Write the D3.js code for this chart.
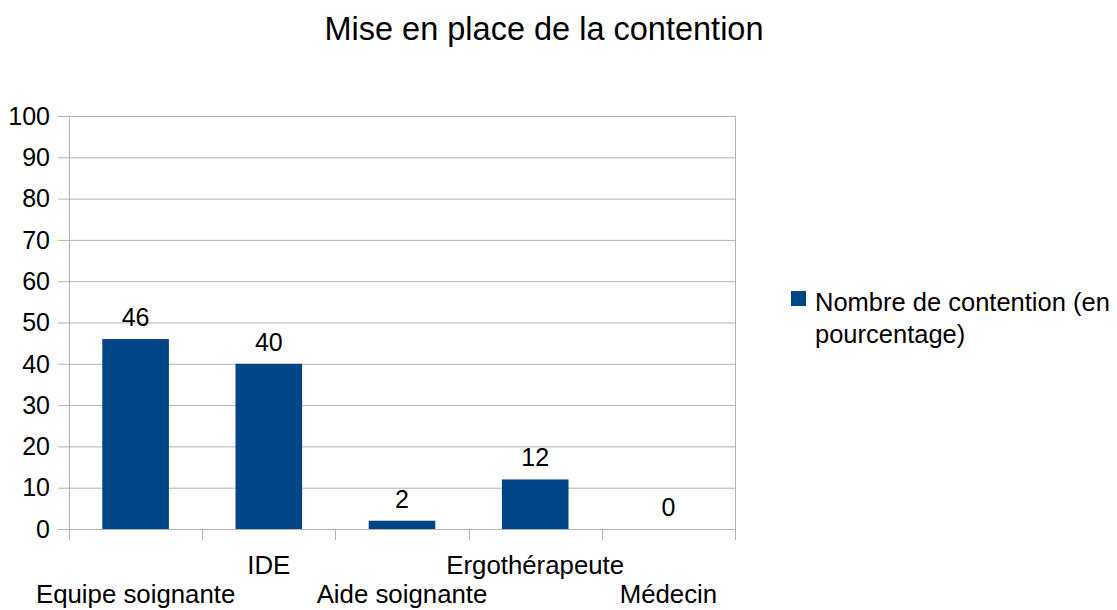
<!DOCTYPE html>
<html lang="fr">
<head>
    <meta charset="UTF-8">
    <title>Mise en place de la contention</title>
    <style>
        body { margin: 0; background: #fff; }
        text { font-family: "Liberation Sans", Arial, sans-serif; fill: #000; }
    </style>
</head>
<body>
    <div id="chart"></div>
    <script src="https://d3js.org/d3.v7.min.js"></script>
    <script>
        var categories = ["Equipe soignante", "IDE", "Aide soignante", "Ergothérapeute", "Médecin"];
        var values = [46, 40, 2, 12, 0];
        var yTicks = [0, 10, 20, 30, 40, 50, 60, 70, 80, 90, 100];
        var seriesName = ["Nombre de contention (en", "pourcentage)"];
        var title = "Mise en place de la contention";

        var W = 1117, H = 610;
        var margin = {top: 116, left: 69, right: 382, bottom: 81};
        var width = W - margin.left - margin.right,
            height = H - margin.top - margin.bottom;

        var svg = d3.select('#chart')
            .append('svg')
                .attr('width', W)
                .attr('height', H);

        svg.append('text')
            .attr('x', 544)
            .attr('y', 40)
            .attr('text-anchor', 'middle')
            .style('font-size', '32.5px')
            .text(title);

        var g = svg.append('g')
            .attr('transform', 'translate(' + margin.left + ',' + margin.top + ')');

        var x = d3.scaleBand()
            .domain(categories)
            .range([0, width])
            .paddingInner(0.5)
            .paddingOuter(0.25);

        var y = d3.scaleLinear()
            .domain([0, 100])
            .range([height, 0]);

        // gridlines
        g.append('g')
            .selectAll('line')
            .data(yTicks)
            .enter().append('line')
                .attr('x1', -11)
                .attr('x2', width)
                .attr('y1', d => y(d) + 0.5)
                .attr('y2', d => y(d) + 0.5)
                .attr('stroke', '#b3b3b3')
                .attr('stroke-width', 1);

        // y axis labels
        g.append('g')
            .selectAll('text')
            .data(yTicks)
            .enter().append('text')
                .attr('x', -19)
                .attr('y', d => y(d))
                .attr('dy', '0.35em')
                .attr('text-anchor', 'end')
                .style('font-size', '25px')
                .text(d => d);

        // vertical frame lines
        g.append('line')
            .attr('x1', 0.5).attr('x2', 0.5)
            .attr('y1', 0).attr('y2', height + 11)
            .attr('stroke', '#b3b3b3');
        g.append('line')
            .attr('x1', width + 0.5).attr('x2', width + 0.5)
            .attr('y1', 0).attr('y2', height + 11)
            .attr('stroke', '#b3b3b3');

        // category ticks
        g.append('g')
            .selectAll('line')
            .data(d3.range(categories.length + 1))
            .enter().append('line')
                .attr('x1', i => Math.round(i * width / categories.length) + 0.5)
                .attr('x2', i => Math.round(i * width / categories.length) + 0.5)
                .attr('y1', height)
                .attr('y2', height + 11)
                .attr('stroke', '#b3b3b3');

        // bars
        g.append('g')
            .selectAll('rect')
            .data(values)
            .enter().append('rect')
                .attr('x', (d, i) => x(categories[i]))
                .attr('y', d => y(d))
                .attr('width', x.bandwidth())
                .attr('height', d => height - y(d))
                .attr('fill', '#004586');

        // value labels
        g.append('g')
            .selectAll('text')
            .data(values)
            .enter().append('text')
                .attr('x', (d, i) => x(categories[i]) + x.bandwidth() / 2)
                .attr('y', d => y(d) - 13)
                .attr('text-anchor', 'middle')
                .style('font-size', '25px')
                .text(d => d);

        // category labels, staggered
        g.append('g')
            .selectAll('text')
            .data(categories)
            .enter().append('text')
                .attr('x', d => x(d) + x.bandwidth() / 2)
                .attr('y', (d, i) => height + (i % 2 === 0 ? 74 : 45))
                .attr('text-anchor', 'middle')
                .style('font-size', '25.8px')
                .text(d => d);

        // legend
        var legend = svg.append('g')
            .attr('transform', 'translate(791,291)');
        legend.append('rect')
            .attr('width', 15)
            .attr('height', 15)
            .attr('fill', '#004586');
        legend.selectAll('text')
            .data(seriesName)
            .enter().append('text')
                .attr('x', 24)
                .attr('y', (d, i) => 20 + i * 32)
                .style('font-size', '25.5px')
                .text(d => d);
    </script>
</body>
</html>
